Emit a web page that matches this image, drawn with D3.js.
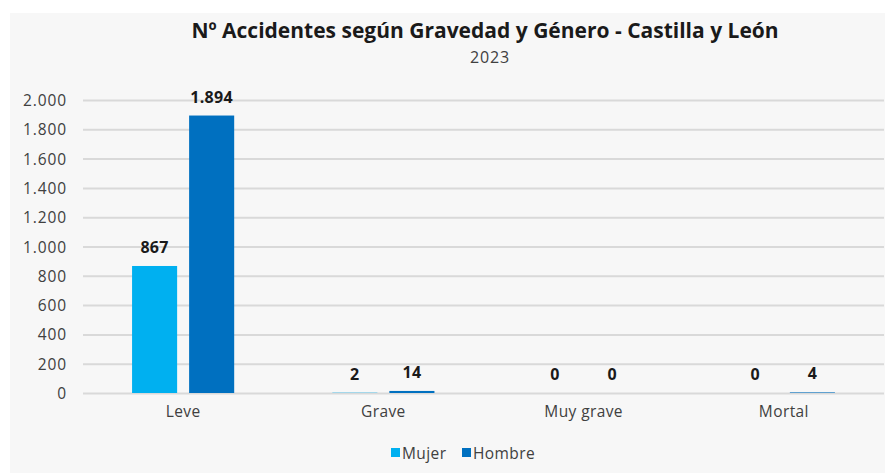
<!DOCTYPE html>
<html>
<head>
<meta charset="utf-8">
<script src="https://cdn.jsdelivr.net/npm/d3@7"></script>
<style>
  html, body { margin: 0; padding: 0; background: #ffffff; }
  svg { display: block; }
  text { font-family: "Open Sans", Lato, sans-serif; }
</style>
</head>
<body>
<svg id="chart" width="885" height="473"></svg>
<script>
// Accidents by severity and gender, Castilla y León 2023
const categories = ["Leve", "Grave", "Muy grave", "Mortal"];
const seriesNames = ["Mujer", "Hombre"];
const mujer  = [867, 2, 0, 0];
const hombre = [1894, 14, 0, 4];
const yTicks = [0, 200, 400, 600, 800, 1000, 1200, 1400, 1600, 1800, 2000];
const colors = ["#00b0f0", "#0070c0"];

const title = "Nº Accidentes según Gravedad y Género - Castilla y León";
const subtitle = "2023";

const W = 885, H = 473;
const margin = { left: 83, right: 1, top: 100, bottom: 80 };
const svg = d3.select("#chart");

// panel background
svg.append("rect")
  .attr("x", 10).attr("y", 13)
  .attr("width", W - 10).attr("height", H - 13)
  .attr("fill", "#f7f7f7");

const fmt = v => d3.format(",")(v).replace(/,/g, ".");

const x0 = d3.scaleBand()
  .domain(categories)
  .range([margin.left, W - margin.right])
  .paddingInner(0.49)
  .paddingOuter(0.245);

const x1 = d3.scaleBand()
  .domain(seriesNames)
  .range([0, x0.bandwidth()])
  .paddingInner(0.21);

const y = d3.scaleLinear()
  .domain([0, 2000])
  .range([393, 100]);

// gridlines and y tick labels
const yAxis = d3.axisLeft(y)
  .tickValues(yTicks)
  .tickFormat(fmt)
  .tickSize(-(W - margin.right - margin.left))
  .tickPadding(16);

const gy = svg.append("g")
  .attr("transform", `translate(${margin.left},0)`)
  .call(yAxis);
gy.select(".domain").remove();
gy.selectAll(".tick line")
  .attr("stroke", "#d9d9d9")
  .attr("stroke-width", 2);
gy.selectAll(".tick text")
  .attr("fill", "#404040")
  .attr("dy", "0.36em")
  .style("font-size", "15.5px")
  .style("letter-spacing", "0.9px");

// category labels
const xAxis = d3.axisBottom(x0).tickSize(0).tickPadding(13);
const gx = svg.append("g")
  .attr("transform", `translate(0,${y(0)})`)
  .call(xAxis);
gx.select(".domain").remove();
gx.selectAll(".tick text")
  .attr("fill", "#404040")
  .style("font-size", "15.5px")
  .style("letter-spacing", "0.4px");

// bars
const rows = categories.map((c, i) => ({
  cat: c,
  vals: [
    { name: seriesNames[0], value: mujer[i] },
    { name: seriesNames[1], value: hombre[i] }
  ]
}));

const groups = svg.append("g").selectAll("g")
  .data(rows)
  .join("g")
  .attr("transform", d => `translate(${x0(d.cat)},0)`);

groups.selectAll("rect")
  .data(d => d.vals)
  .join("rect")
  .attr("x", d => x1(d.name))
  .attr("y", d => y(d.value))
  .attr("width", x1.bandwidth())
  .attr("height", d => y(0) - y(d.value))
  .attr("fill", (d, i) => colors[i]);

groups.selectAll("text.val")
  .data(d => d.vals)
  .join("text")
  .attr("class", "val")
  .attr("x", d => x1(d.name) + x1.bandwidth() / 2)
  .attr("y", d => y(d.value) - 13)
  .attr("text-anchor", "middle")
  .attr("fill", "#1a1a1a")
  .style("font-size", "16px")
  .style("font-weight", "bold")
  .style("letter-spacing", "0.3px")
  .text(d => fmt(d.value));

// title
svg.append("text")
  .attr("x", 485).attr("y", 38)
  .attr("text-anchor", "middle")
  .attr("fill", "#1a1a1a")
  .style("font-size", "21px")
  .style("font-weight", "bold")
  .text(title);

svg.append("text")
  .attr("x", 490).attr("y", 63)
  .attr("text-anchor", "middle")
  .attr("fill", "#404040")
  .style("font-size", "16px")
  .style("letter-spacing", "0.8px")
  .text(subtitle);

// legend
const legendX = [391, 462];
const leg = svg.append("g").selectAll("g")
  .data(seriesNames)
  .join("g")
  .attr("transform", (d, i) => `translate(${legendX[i]},0)`);
leg.append("rect")
  .attr("x", 0).attr("y", 448)
  .attr("width", 9).attr("height", 9)
  .attr("fill", (d, i) => colors[i]);
leg.append("text")
  .attr("x", 11).attr("y", 458.5)
  .attr("fill", "#404040")
  .style("font-size", "15.5px")
  .style("letter-spacing", "0.4px")
  .text(d => d);
</script>
</body>
</html>
